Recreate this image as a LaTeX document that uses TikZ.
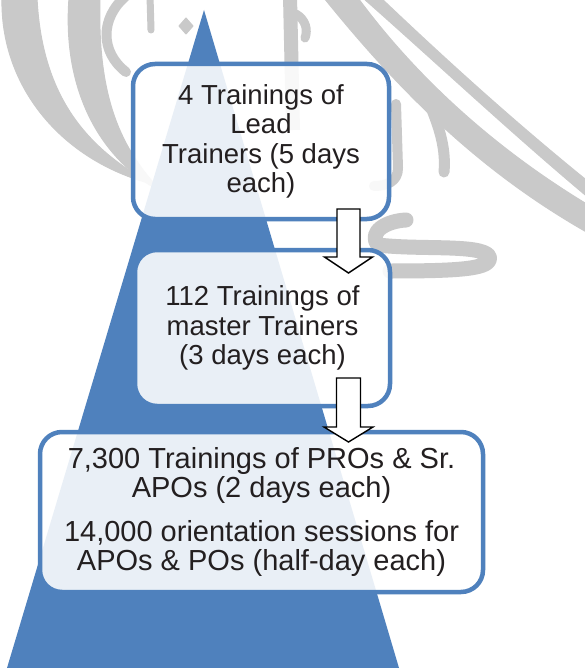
\documentclass[tikz,border=0pt]{standalone}
\usepackage{fontspec}
\setmainfont{Liberation Sans}
\definecolor{officeblue}{HTML}{4F81BD}
\definecolor{markgrey}{HTML}{C9C9C9}
\definecolor{inkdark}{HTML}{231F20}
\tikzset{
  stagebox/.style={draw=officeblue, line width=4.5pt, fill=white, fill opacity=0.88,
    text opacity=1, rounded corners=22pt, align=center, text=inkdark, inner sep=0pt},
  flowarrow/.style={draw=black, line width=1.4pt, fill=white, line join=miter},
  calligraphy/.style={draw=markgrey, fill=markgrey, line cap=round, line join=round},
  textA/.style={font=\fontsize{27.5}{29.5}\selectfont},
  textB/.style={font=\fontsize{29}{29.5}\selectfont}
}
\begin{document}
\begin{tikzpicture}[x=1pt,y=-1pt]
\useasboundingbox (0,0) rectangle (585,668);
\fill[white] (0,0) rectangle (585,668);

% calligraphic watermark in the background
\begin{scope}[calligraphy, line width=1pt]
  % two nested crescents on the left
  \filldraw (2,-2) .. controls (0,85) and (60,160) .. (152,184)
     .. controls (90,150) and (42,100) .. (37,-2) -- cycle;
  \filldraw (69,-2) .. controls (62,90) and (100,160) .. (162,192)
     .. controls (122,150) and (97,100) .. (100,-2) -- cycle;
  % small loop and dots at the top
  \draw[line width=10pt, fill=none] (126,-4) .. controls (100,18) and (100,52) .. (126,72);
  \draw[line width=7pt] (150,-4) -- (151,30);
  \filldraw (186,18) -- (193,26) -- (186,34) -- (179,26) -- cycle;
  % upright strokes
  \draw[line width=14pt, line cap=butt] (290,-4) -- (293,130);
  \draw[line width=9pt] (296,14) .. controls (306,20) and (308,30) .. (305,38);
  \draw[line width=10pt, fill=none] (396,104) -- (398,168) .. controls (398,182) and (386,186) .. (374,186);
  \draw[line width=11pt, fill=none] (432,110) .. controls (440,130) and (446,150) .. (444,172);
  % long diagonal strokes on the right
  \filldraw (324,-2) .. controls (400,92) and (480,172) .. (590,234)
     -- (590,206) .. controls (500,152) and (420,82) .. (358,-2) -- cycle;
  \filldraw (363,-2) .. controls (440,66) and (510,132) .. (590,199)
     -- (590,183) .. controls (512,120) and (442,56) .. (381,-2) -- cycle;
  % hooked stroke beside the second stage
  \draw[line width=15pt, fill=none] (406,220) .. controls (386,221) and (368,232) .. (378,245)
     .. controls (420,250) and (480,244) .. (489,256)
     .. controls (494,269) and (460,271) .. (390,271);
\end{scope}

% pyramid
\fill[officeblue] (204,10) -- (399,668) -- (7,668) -- cycle;

% stages
\node[stagebox, textA, minimum width=256pt, minimum height=155pt] (lead) at (261,141.5)
  {4 Trainings of\\Lead\\Trainers (5 days\\each)};
\node[stagebox, textA, minimum width=255pt, minimum height=156pt] (master) at (262.5,328)
  {112 Trainings of\\master Trainers\\(3 days each)};
\node[stagebox, textB, minimum width=443pt, minimum height=160pt] (field) at (261.5,512)
  {7,300 Trainings of PROs \& Sr.\\APOs (2 days each)\\[14pt]
   14,000 orientation sessions for\\APOs \& POs (half-day each)};

% block arrows between stages: shaft top, then shaft, head and tip
\coordinate (a1) at (348.5,209);
\coordinate (a2) at (348.5,378);
\draw[flowarrow] (a1) ++(-11.5,0) -- ++(23,0) -- ++(0,48) -- ++(12.5,0)
  -- ++(-24,16) -- ++(-24,-16) -- ++(12.5,0) -- cycle;
\draw[flowarrow] (a2) ++(-12,0) -- ++(24,0) -- ++(0,49) -- ++(12.5,0)
  -- ++(-24.5,15) -- ++(-24.5,-15) -- ++(12.5,0) -- cycle;
\end{tikzpicture}
\end{document}
